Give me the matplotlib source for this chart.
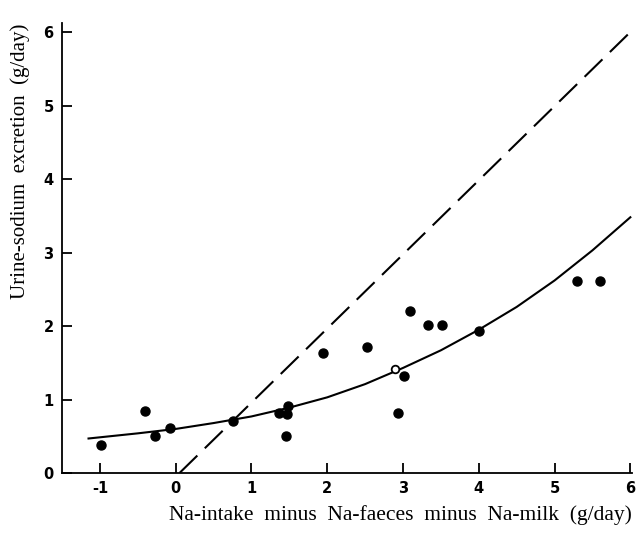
import matplotlib
matplotlib.use('Agg')
import matplotlib.pyplot as plt

plt.rcParams['axes.unicode_minus'] = False

# measured points (filled dots)
na_balance = [-0.98, -0.40, -0.27, -0.08, 0.75, 1.36, 1.47, 1.48, 1.45,
              1.94, 2.52, 2.93, 3.01, 3.09, 3.33, 3.52, 4.00, 5.30, 5.60]
urine_na = [0.38, 0.84, 0.50, 0.61, 0.71, 0.82, 0.81, 0.91, 0.50,
            1.63, 1.71, 0.82, 1.32, 2.20, 2.01, 2.01, 1.93, 2.61, 2.61]
# the one open circle sitting on the curve
open_x = [2.90]
open_y = [1.41]

# fitted curve
curve_x = [-1.15, -0.5, 0.0, 0.5, 1.0, 1.5, 2.0, 2.5, 3.0, 3.5, 4.0, 4.5, 5.0, 5.5, 6.0]
curve_y = [0.47, 0.54, 0.60, 0.68, 0.77, 0.89, 1.03, 1.21, 1.43, 1.67, 1.95, 2.26, 2.62, 3.03, 3.48]

# line of identity (dashed)
ident_x = [0.05, 6.0]
ident_y = [0.0, 6.0]

xticks = [-1, 0, 1, 2, 3, 4, 5, 6]
yticks = [0, 1, 2, 3, 4, 5, 6]

fig = plt.figure(figsize=(6.36, 5.4), dpi=100)
ax = fig.add_axes([0.0975, 0.124, 0.896, 0.833])

ax.plot(curve_x, curve_y, color='black', lw=1.5, solid_joinstyle='round')
ax.plot(ident_x, ident_y, color='black', lw=1.5, dashes=(12, 5))
ax.plot(na_balance, urine_na, 'o', color='black', ms=6.5, clip_on=False)
ax.plot(open_x, open_y, 'o', mfc='white', mec='black', mew=1.3, ms=5.5)

ax.set_xlim(-1.5, 6.02)
ax.set_ylim(0, 6.12)
ax.set_xticks(xticks)
ax.set_yticks(yticks)
for s in ['top', 'right']:
    ax.spines[s].set_visible(False)
for s in ['left', 'bottom']:
    ax.spines[s].set_linewidth(1.3)
ax.tick_params(direction='in', length=7, width=1.3, labelsize=10.5, pad=6)
for lab in ax.get_xticklabels() + ax.get_yticklabels():
    lab.set_fontweight('bold')

serif = ['Liberation Serif', 'DejaVu Serif']
ax.set_xlabel('Na-intake  minus  Na-faeces  minus  Na-milk  (g/day)', family=serif,
              fontsize=15.5, loc='right', labelpad=6)
ax.set_ylabel('Urine-sodium  excretion  (g/day)', family=serif,
              fontsize=15, loc='top', labelpad=10)

fig.savefig('out.png', dpi=100)
